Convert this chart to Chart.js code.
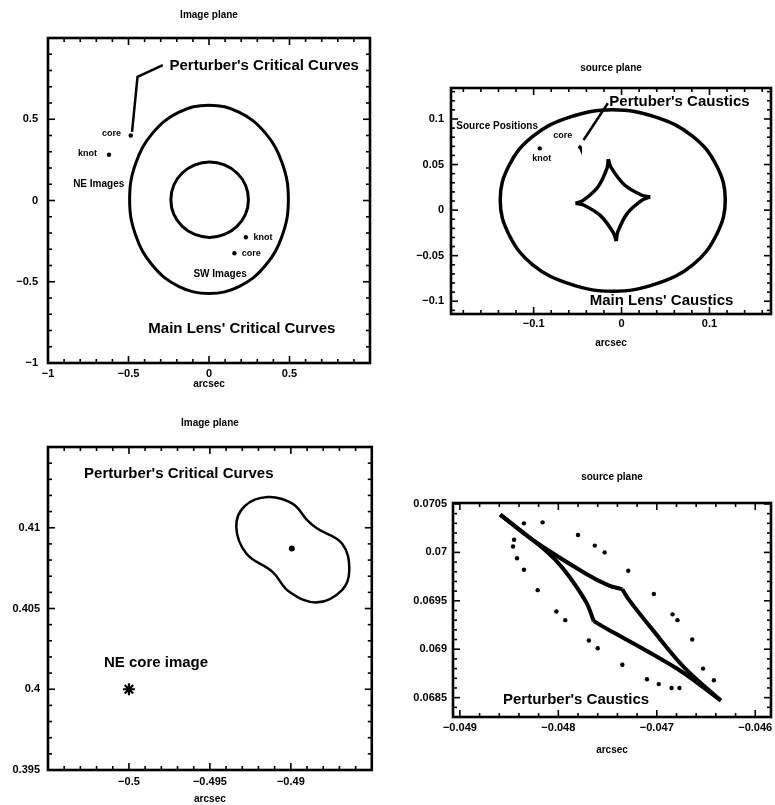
<!DOCTYPE html>
<html>
<head>
<meta charset="utf-8">
<title>Image plane / source plane</title>
<script src="https://cdn.jsdelivr.net/npm/chart.js"></script>
<style>
  body { margin: 0; background: #fff; }
  #page { position: relative; width: 775px; height: 805px; overflow: hidden; background: #fff; }
  .panel { position: absolute; }
</style>
</head>
<body>
<div id="page">
  <div class="panel" style="left:0px;top:0px;width:380px;height:400px"><canvas id="p1"></canvas></div>
  <div class="panel" style="left:390px;top:40px;width:385px;height:320px"><canvas id="p2"></canvas></div>
  <div class="panel" style="left:0px;top:400px;width:380px;height:405px"><canvas id="p3"></canvas></div>
  <div class="panel" style="left:390px;top:460px;width:385px;height:345px"><canvas id="p4"></canvas></div>
</div>
<script>
const FONT = '"Liberation Sans", Arial, Helvetica, sans-serif';

// ---- panel 1: image plane (whole lens) ----
const p1XRange = [-1, 1];
const p1YRange = [-1, 1];
const p1XLabels = [-1, -0.5, 0, 0.5];
const p1YLabels = [-1, -0.5, 0, 0.5];
const p1OuterX = [0.493, 0.455, 0.349, 0.189, 0, -0.189, -0.349, -0.455, -0.493, -0.455, -0.349, -0.189, 0, 0.189, 0.349, 0.455, 0.493];
const p1OuterY = [0.007, 0.229, 0.416, 0.542, 0.586, 0.542, 0.416, 0.229, 0.007, -0.215, -0.402, -0.528, -0.572, -0.528, -0.402, -0.215, 0.007];
const p1InnerX = [0.245, 0.227, 0.174, 0.096, 0.004, -0.088, -0.166, -0.219, -0.237, -0.219, -0.166, -0.088, 0.004, 0.096, 0.174, 0.227, 0.245];
const p1InnerY = [0.005, 0.094, 0.169, 0.219, 0.237, 0.219, 0.169, 0.094, 0.005, -0.084, -0.159, -0.209, -0.227, -0.209, -0.159, -0.084, 0.005];
const p1ImagesX = [-0.486, -0.621, 0.229, 0.158];   // NE core, NE knot, SW knot, SW core
const p1ImagesY = [0.400, 0.282, -0.226, -0.325];
const p1PointerX = [-0.287, -0.444, -0.478];
const p1PointerY = [0.833, 0.761, 0.422];

// ---- panel 2: source plane (whole lens) ----
const p2XRange = [-0.194, 0.170];
const p2YRange = [-0.114, 0.134];
const p2XLabels = [-0.1, 0, 0.1];
const p2YLabels = [-0.1, -0.05, 0, 0.05, 0.1];
const p2OuterX = [0.118, 0.108, 0.081, 0.039, -0.010, -0.059, -0.101, -0.128, -0.138, -0.128, -0.101, -0.059, -0.010, 0.039, 0.081, 0.108, 0.118];
const p2OuterY = [0.011, 0.049, 0.081, 0.102, 0.110, 0.102, 0.081, 0.049, 0.011, -0.027, -0.060, -0.081, -0.089, -0.081, -0.060, -0.027, 0.011];
// astroid caustic, cusp to cusp: right, top, left, bottom, right
const p2AstroidX = [0.0326, 0.0232, 0.0031, -0.0117, -0.0151, -0.0165, -0.0269, -0.0437, -0.0523, -0.0432, -0.0237, -0.0093, -0.0060, -0.0045, 0.0063, 0.0237, 0.0326];
const p2AstroidY = [0.0146, 0.0163, 0.0279, 0.0464, 0.0557, 0.0460, 0.0254, 0.0106, 0.0074, 0.0056, -0.0063, -0.0248, -0.0340, -0.0244, -0.0038, 0.0112, 0.0146];
const p2KnotX = [-0.093];
const p2KnotY = [0.0678];
const p2PointerX = [-0.0156, -0.0432];
const p2PointerY = [0.1173, 0.0769];

// ---- panel 3: image plane, zoom on NE core ----
const p3XRange = [-0.505, -0.485];
const p3YRange = [0.395, 0.415];
const p3XLabels = [-0.5, -0.495, -0.49];
const p3YLabels = [0.395, 0.4, 0.405, 0.41];
const p3CurveX = [-0.49337, -0.49286, -0.49143, -0.48990, -0.48898, -0.48837, -0.48684, -0.48639, -0.48684, -0.48837, -0.49010, -0.49113, -0.49275, -0.49337];
const p3CurveY = [0.41005, 0.41133, 0.41190, 0.41149, 0.41046, 0.40995, 0.40902, 0.40738, 0.40614, 0.40538, 0.40604, 0.40727, 0.40841, 0.41005];
const p3PerturberX = [-0.48994];
const p3PerturberY = [0.40872];
const p3CoreX = [-0.5];
const p3CoreY = [0.4];

// ---- panel 4: source plane, zoom on perturber caustic ----
const p4XRange = [-0.04907, -0.04584];
const p4YRange = [0.0683, 0.07051];
const p4XLabels = [-0.049, -0.048, -0.047, -0.046];
const p4YLabels = [0.0685, 0.069, 0.0695, 0.07, 0.0705];
// caustic, cusp to cusp: top-left, upper-right, bottom-right, lower-left, top-left
const p4CausticX = [-0.04859, -0.04825, -0.04772, -0.04749, -0.04735, -0.04729, -0.04705, -0.04672, -0.04635, -0.04675, -0.04715, -0.04749, -0.04764, -0.04772, -0.04795, -0.04813, -0.04859];
const p4CausticY = [0.07039, 0.07012, 0.06978, 0.06966, 0.06962, 0.06952, 0.06921, 0.06881, 0.06847, 0.06877, 0.06901, 0.06920, 0.06929, 0.06949, 0.06983, 0.07002, 0.07039];
const p4DotsX = [-0.04835, -0.04816, -0.04845, -0.04846, -0.04842, -0.04835, -0.04821, -0.04802, -0.04793, -0.04780, -0.04763, -0.04753, -0.04729, -0.04703, -0.04684, -0.04679, -0.04664, -0.04769, -0.04760, -0.04735, -0.04710, -0.04698, -0.04685, -0.04677, -0.04653, -0.04642];
const p4DotsY = [0.07030, 0.07031, 0.07013, 0.07006, 0.06994, 0.06982, 0.06961, 0.06939, 0.06930, 0.07018, 0.07007, 0.07000, 0.06981, 0.06957, 0.06936, 0.06930, 0.06910, 0.06909, 0.06901, 0.06884, 0.06869, 0.06864, 0.06860, 0.06860, 0.06880, 0.06868];

const pts = (xs, ys) => xs.map((x, i) => ({ x: x, y: ys[i] }));
// closed smooth curve: repeat one neighbour at each end so the spline has no kink where it closes
const loop = (xs, ys) => {
  const n = xs.length;
  return pts([xs[n - 2], ...xs, xs[1]], [ys[n - 2], ...ys, ys[1]]);
};
const fmt = v => String(parseFloat(v.toFixed(6))).replace('-', '\u2212');

function stepTicks(min, max, step) {
  const out = [];
  const a = Math.ceil(min / step - 1e-6), b = Math.floor(max / step + 1e-6);
  for (let i = a; i <= b; i++) out.push({ value: parseFloat((i * step).toFixed(8)) });
  return out;
}

function curve(data, width, tension) {
  return { data: data, showLine: true, borderColor: '#000', borderWidth: width, pointRadius: 0, tension: tension || 0, fill: false };
}
// closed curve: the padding segments at both ends only steer the spline, they are not drawn
function closedCurve(xs, ys, width) {
  const data = loop(xs, ys);
  const last = data.length - 1;
  const ds = curve(data, width, 0.4);
  ds.segment = { borderColor: c => (c.p0DataIndex === 0 || c.p1DataIndex === last) ? 'rgba(0,0,0,0)' : undefined };
  return ds;
}
function dots(data, r, style) {
  return { data: data, showLine: false, pointRadius: r, pointStyle: style || 'circle',
           pointBackgroundColor: '#000', pointBorderColor: '#000', pointBorderWidth: style === 'star' ? 2.2 : 0 };
}
// split a closed cusped curve into separate sides so the cusps stay sharp
function sides(xs, ys, n, width) {
  const out = [];
  for (let i = 0; i + n < xs.length; i += n) out.push(curve(pts(xs.slice(i, i + n + 1), ys.slice(i, i + n + 1)), width, 0.35));
  return out;
}

function axis(pos, range, labels, step, size, pad, title, titlePad) {
  return {
    type: 'linear', position: pos, min: range[0], max: range[1],
    grid: { display: false, drawTicks: false }, border: { display: false },
    afterBuildTicks: s => { s.ticks = stepTicks(range[0], range[1], step); },
    afterFit: s => {
      if (pos === 'bottom') s.height = size; else s.width = size;
      s.paddingLeft = 0; s.paddingRight = 0; s.paddingTop = 0; s.paddingBottom = 0;
    },
    ticks: {
      autoSkip: false, maxRotation: 0, minRotation: 0, padding: pad, color: '#000',
      font: { family: FONT, size: 11, weight: 'bold' },
      callback: v => labels.some(m => Math.abs(m - v) < step / 10) ? fmt(v) : ''
    },
    title: title
      ? { display: true, text: title, color: '#000', font: { family: FONT, size: 10, weight: 'bold' }, padding: { top: 0, bottom: titlePad } }
      : { display: false }
  };
}

function line(ctx, x1, y1, x2, y2) {
  ctx.beginPath(); ctx.moveTo(x1, y1); ctx.lineTo(x2, y2); ctx.stroke();
}

// inward ticks on all four sides, frame box, title and annotations
const framePlugin = {
  id: 'frame',
  afterDatasetsDraw(chart, args, opts) {
    const { ctx, chartArea: a, scales } = chart;
    ctx.save();
    ctx.strokeStyle = '#000';
    ctx.lineWidth = 1.6;
    for (const t of scales.x.ticks) {
      const px = scales.x.getPixelForValue(t.value);
      const len = t.label ? 7 : 4;
      line(ctx, px, a.bottom, px, a.bottom - len);
      line(ctx, px, a.top, px, a.top + len);
    }
    for (const t of scales.y.ticks) {
      const py = scales.y.getPixelForValue(t.value);
      const len = t.label ? 7 : 4;
      line(ctx, a.left, py, a.left + len, py);
      line(ctx, a.right, py, a.right - len, py);
    }
    ctx.lineWidth = 2.6;
    ctx.strokeRect(a.left, a.top, a.right - a.left, a.bottom - a.top);

    ctx.fillStyle = '#000';
    ctx.textAlign = 'center';
    ctx.textBaseline = 'middle';
    ctx.font = 'bold 10px ' + FONT;
    ctx.fillText(opts.title, (a.left + a.right) / 2, opts.titleY);
    for (const [txt, x, y, size] of opts.texts) {
      ctx.font = 'bold ' + size + 'px ' + FONT;
      ctx.fillText(txt, scales.x.getPixelForValue(x), scales.y.getPixelForValue(y));
    }
    ctx.restore();
  }
};

function makePanel(id, c) {
  return new Chart(document.getElementById(id), {
    type: 'scatter',
    data: { datasets: c.datasets },
    options: {
      responsive: true, maintainAspectRatio: false, animation: false,
      layout: { padding: c.padding },
      scales: {
        x: axis('bottom', c.xRange, c.xLabels, c.xStep, c.xSize, c.xPad, 'arcsec', c.titlePad),
        y: axis('left', c.yRange, c.yLabels, c.yStep, c.ySize, c.yPad)
      },
      plugins: {
        legend: { display: false }, tooltip: { enabled: false },
        frame: { title: c.title, titleY: c.titleY, texts: c.texts }
      }
    },
    plugins: [framePlugin]
  });
}

makePanel('p1', {
  title: 'Image plane', titleY: 15,
  padding: { left: 0, top: 38, right: 10, bottom: 0 },
  xRange: p1XRange, xLabels: p1XLabels, xStep: 0.1, xSize: 37, xPad: 4, titlePad: 10,
  yRange: p1YRange, yLabels: p1YLabels, yStep: 0.1, ySize: 48, yPad: 10,
  datasets: [
    closedCurve(p1OuterX, p1OuterY, 3),
    closedCurve(p1InnerX, p1InnerY, 3),
    curve(pts(p1PointerX, p1PointerY), 2.5, 0),
    dots(pts(p1ImagesX, p1ImagesY), 2.2)
  ],
  texts: [
    ["Perturber's Critical Curves", 0.343, 0.827, 15],
    ["Main Lens' Critical Curves", 0.204, -0.79, 15],
    ['core', -0.606, 0.414, 9],
    ['knot', -0.754, 0.29, 9],
    ['NE Images', -0.685, 0.099, 10],
    ['knot', 0.336, -0.228, 9],
    ['core', 0.262, -0.327, 9],
    ['SW Images', 0.069, -0.451, 10]
  ]
});

makePanel('p2', {
  title: 'source plane', titleY: 28,
  padding: { left: 0, top: 48, right: 3, bottom: 0 },
  xRange: p2XRange, xLabels: p2XLabels, xStep: 0.02, xSize: 46, xPad: 3, titlePad: 11,
  yRange: p2YRange, yLabels: p2YLabels, yStep: 0.01, ySize: 61, yPad: 7,
  datasets: [
    closedCurve(p2OuterX, p2OuterY, 3.5),
    ...sides(p2AstroidX, p2AstroidY, 4, 3.5),
    curve(pts(p4CausticX, p4CausticY), 3, 0),
    curve(pts(p2PointerX, p2PointerY), 2.5, 0),
    dots(pts(p2KnotX, p2KnotY), 2.2)
  ],
  texts: [
    ["Pertuber's Caustics", 0.0659, 0.119, 15],
    ["Main Lens' Caustics", 0.0455, -0.0997, 15],
    ['Source Positions', -0.1415, 0.0923, 10],
    ['core', -0.067, 0.0824, 9],
    ['knot', -0.0909, 0.0571, 9]
  ]
});

makePanel('p3', {
  title: 'Image plane', titleY: 23,
  padding: { left: 0, top: 47, right: 8, bottom: 0 },
  xRange: p3XRange, xLabels: p3XLabels, xStep: 0.001, xSize: 35, xPad: 5, titlePad: 0,
  yRange: p3YRange, yLabels: p3YLabels, yStep: 0.001, ySize: 48, yPad: 8,
  datasets: [
    closedCurve(p3CurveX, p3CurveY, 2.5),
    dots(pts(p3PerturberX, p3PerturberY), 3),
    dots(pts(p3CoreX, p3CoreY), 6, 'star')
  ],
  texts: [
    ["Perturber's Critical Curves", -0.49692, 0.41336, 15],
    ['NE core image', -0.49833, 0.40163, 15]
  ]
});

makePanel('p4', {
  title: 'source plane', titleY: 17,
  padding: { left: 0, top: 43, right: 2, bottom: 48 },
  xRange: p4XRange, xLabels: p4XLabels, xStep: 0.0002, xSize: 40, xPad: 4, titlePad: 1,
  yRange: p4YRange, yLabels: p4YLabels, yStep: 0.0001, ySize: 63, yPad: 6,
  datasets: [
    ...sides(p4CausticX, p4CausticY, 4, 4),
    dots(pts(p4DotsX, p4DotsY), 2.2)
  ],
  texts: [
    ["Perturber's Caustics", -0.04782, 0.06848, 15]
  ]
});
</script>
</body>
</html>
